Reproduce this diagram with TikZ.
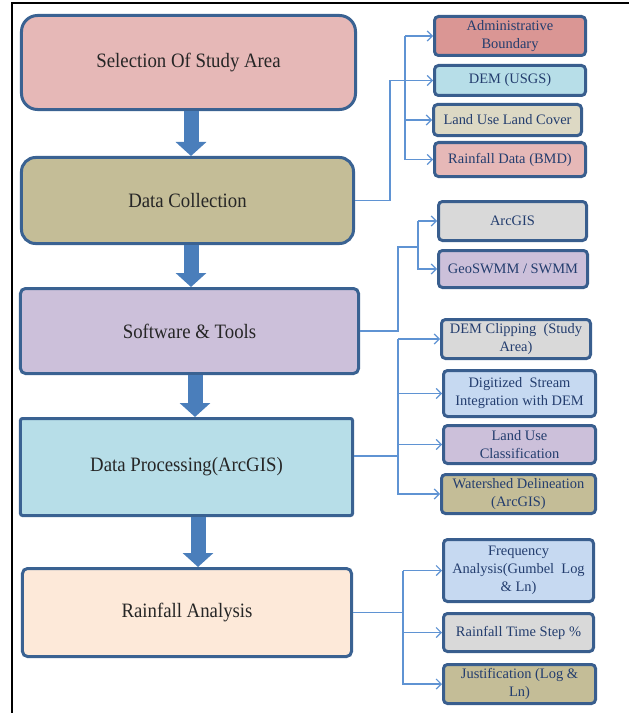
\documentclass[tikz,border=0pt]{standalone}
\usepackage{fontspec}
\setmainfont{Liberation Serif}
\newfontfamily\tnr{Liberation Serif}
\newfontfamily\tnrc{Liberation Serif}[FakeStretch=0.92]
\usetikzlibrary{arrows.meta,calc}
\definecolor{bord}{HTML}{3A6292}
\definecolor{sbord}{HTML}{395E8E}
\definecolor{navytext}{HTML}{233D6E}
\definecolor{connc}{HTML}{5F93D3}
\definecolor{arrc}{HTML}{4A7EBB}
\definecolor{cPink}{HTML}{E6B8B7}
\definecolor{cRed}{HTML}{DA9694}
\definecolor{cOlive}{HTML}{C4BD97}
\definecolor{cLav}{HTML}{CCC0DA}
\definecolor{cAqua}{HTML}{B7DEE8}
\definecolor{cPeach}{HTML}{FDE9D9}
\definecolor{cTan}{HTML}{DDD9C4}
\definecolor{cGray}{HTML}{D9D9D9}
\definecolor{cSky}{HTML}{C6D9F1}
\begin{document}
\begin{tikzpicture}[x=1bp,y=-1bp,
  mainbox/.style={draw=bord, line width=3bp, inner sep=0pt, text=black!85,
    font=\tnrc\fontsize{20.5}{24}\selectfont, align=center},
  sbox/.style={draw=sbord, line width=3bp, rounded corners=4bp, inner sep=0pt,
    text=navytext, font=\tnr\fontsize{14.5}{18}\selectfont, align=center},
  conn/.style={draw=connc, line width=1.2bp},
  tipped/.style={conn, -{Straight Barb[length=5bp,width=10bp]}},
  fat/.style={draw=arrc, line width=15bp, -{Triangle[length=14bp,width=30bp]}}]
\useasboundingbox (0,0) rectangle (629,713);
% frame
\draw[line width=2bp] (12,713) -- (12,3.5) -- (629,3.5);

% main boxes
\node[mainbox, fill=cPink, rounded corners=16bp, minimum width=334bp, minimum height=94bp] (sel) at (188.5,62.5) {Selection Of Study Area};
\node[mainbox, fill=cOlive, rounded corners=14bp, minimum width=332bp, minimum height=86bp] (dc) at (187.5,200.5) {Data Collection};
\node[mainbox, fill=cLav, rounded corners=5bp, minimum width=338bp, minimum height=85bp] (sw) at (189.5,331) {Software \& Tools};
\node[mainbox, fill=cAqua, rounded corners=2bp, minimum width=332bp, minimum height=97bp] (dp) at (186.5,467) {Data Processing(ArcGIS)};
\node[mainbox, fill=cPeach, rounded corners=5bp, minimum width=329bp, minimum height=88bp] (ra) at (187,612.5) {Rainfall Analysis};

% fat arrows
\coordinate (x1) at (191,0);
\coordinate (x2) at (191,0);
\coordinate (x3) at (195,0);
\coordinate (x4) at (198,0);
\draw[fat] (x1 |- sel.south) -- (x1 |- dc.north);
\draw[fat] (x2 |- dc.south) -- (x2 |- sw.north);
\draw[fat] (x3 |- sw.south) -- (x3 |- dp.north);
\draw[fat] (x4 |- dp.south) -- (x4 |- ra.north);

% small boxes
\node[sbox, fill=cRed, minimum width=151bp, minimum height=39bp] (adm) at (510,36) {Administrative\\Boundary};
\node[sbox, fill=cAqua, minimum width=151bp, minimum height=30bp] (dem) at (510,80.5) {DEM (USGS)};
\node[sbox, fill=cTan, minimum width=148bp, minimum height=31bp] (lulc) at (507.5,120) {Land Use Land Cover};
\node[sbox, fill=cPink, minimum width=151bp, minimum height=34bp] (rain) at (510,159.5) {Rainfall Data (BMD)};

\node[sbox, fill=cGray, minimum width=148bp, minimum height=39bp] (arc) at (512.5,221) {ArcGIS};
\node[sbox, fill=cLav, minimum width=149bp, minimum height=37bp] (geo) at (513,269) {GeoSWMM / SWMM};

\node[sbox, fill=cGray, minimum width=149bp, minimum height=39bp] (demc) at (516,339) {DEM Clipping\ \ (Study\\Area)};
\node[sbox, fill=cSky, minimum width=152bp, minimum height=46bp] (dig) at (519.5,393.5) {Digitized\ \ Stream\\Integration with DEM};
\node[sbox, fill=cLav, minimum width=152bp, minimum height=38bp] (luc) at (519.5,444.5) {Land Use\\Classification};
\node[sbox, fill=cOlive, minimum width=154bp, minimum height=39bp] (ws) at (518.5,494) {Watershed Delineation\\(ArcGIS)};

\node[sbox, fill=cSky, minimum width=150bp, minimum height=62bp] (freq) at (518.5,570.5) {Frequency\\Analysis(Gumbel\ \ Log\\\& Ln)};
\node[sbox, fill=cGray, minimum width=150bp, minimum height=38bp] (rts) at (518.5,632.5) {Rainfall Time Step \%};
\node[sbox, fill=cOlive, minimum width=152bp, minimum height=39bp] (just) at (519.5,684) {Justification (Log \&\\Ln)};

% connectors: data collection
\coordinate (j1) at (390,0);
\coordinate (j2) at (405,0);
\draw[tipped] (dc.east) -| (j1 |- dem.west) -- (dem.west);
\draw[tipped] (j2 |- adm.west) -- (adm.west);
\draw[tipped] (j2 |- adm.west) |- (rain.west);
\draw[tipped] (j2 |- lulc.west) -- (lulc.west);

% software
\coordinate (j3) at (398,247);
\coordinate (j4) at (418,247);
\draw[conn] (sw.east) -| (j3) -- (j4);
\draw[tipped] (j4 |- arc.west) -- (arc.west);
\draw[tipped] (j4 |- arc.west) |- (geo.west);

% data processing
\coordinate (j5) at (398,456);
\draw[conn] (j5 -| dp.east) -- (j5);
\draw[tipped] (j5 |- demc.west) -- (demc.west);
\draw[tipped] (j5 |- demc.west) |- (ws.west);
\draw[tipped] (j5 |- dig.west) -- (dig.west);
\draw[tipped] (j5 |- luc.west) -- (luc.west);

% rainfall analysis
\coordinate (j6) at (403,0);
\draw[conn] (ra.east) -- (j6 |- ra.east);
\draw[tipped] (j6 |- freq.west) -- (freq.west);
\draw[tipped] (j6 |- freq.west) |- (just.west);
\draw[tipped] (j6 |- rts.west) -- (rts.west);
\end{tikzpicture}
\end{document}
